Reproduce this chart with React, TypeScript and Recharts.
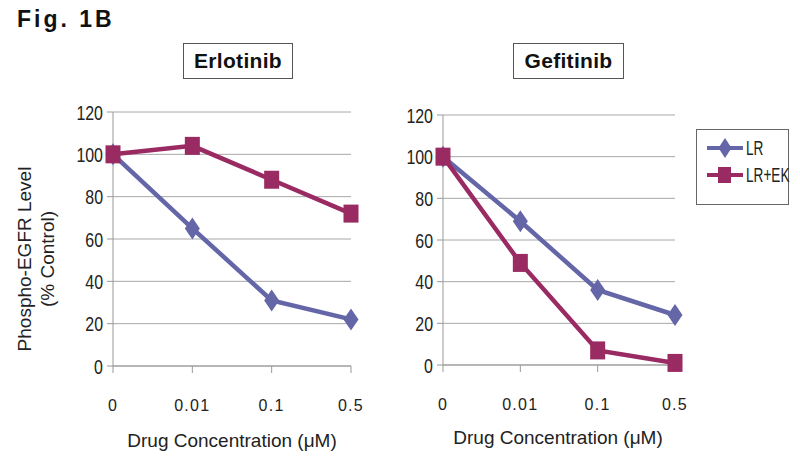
import React from 'react';
import { LineChart, Line, XAxis, YAxis, CartesianGrid, Legend } from 'recharts';

const concentrations = ['0', '0.01', '0.1', '0.5'];
const erlotinibLR = [100, 65, 31, 22];
const erlotinibLREK = [100, 104, 88, 72];
const gefitinibLR = [100, 69, 36, 24];
const gefitinibLREK = [100, 49, 7, 1];
const yTicks = [0, 20, 40, 60, 80, 100, 120];
const seriesNames = ['LR', 'LR+EK'];

const LR_COLOR = '#6466a8';
const LREK_COLOR = '#9a2a62';
const ARIAL = "'Liberation Sans', Arial, sans-serif";

const build = (a: number[], b: number[]) =>
  concentrations.map((c, i) => ({ conc: c, LR: a[i], 'LR+EK': b[i] }));

const erlotinibData = build(erlotinibLR, erlotinibLREK);
const gefitinibData = build(gefitinibLR, gefitinibLREK);

const Diamond = (props: any) => {
  const { cx, cy } = props;
  if (cx == null || cy == null) return null;
  return (
    <polygon
      points={`${cx},${cy - 11} ${cx + 7.5},${cy} ${cx},${cy + 11} ${cx - 7.5},${cy}`}
      fill={LR_COLOR}
    />
  );
};

const Square = (props: any) => {
  const { cx, cy } = props;
  if (cx == null || cy == null) return null;
  return <rect x={cx - 7.5} y={cy - 9} width={15} height={18} fill={LREK_COLOR} />;
};

const NarrowYTick = (props: any) => {
  const { x, y, payload } = props;
  return (
    <g transform={`translate(${x},${y}) scale(0.76,1)`}>
      <text x={0} y={0} dy="0.36em" textAnchor="end" fontFamily={ARIAL} fontSize={21} fill="#222">
        {payload.value}
      </text>
    </g>
  );
};

const XTick = (props: any) => {
  const { x, y, payload } = props;
  return (
    <text x={x} y={y} dy="0.71em" textAnchor="middle" fontFamily={ARIAL} fontSize={16} letterSpacing={1.3} fill="#222">
      {payload.value}
    </text>
  );
};

const LegendBox = () => (
  <div
    style={{
      width: 93,
      height: 76,
      border: '1px solid #666',
      boxSizing: 'border-box',
      background: '#fff',
      position: 'relative',
    }}
  >
    {seriesNames.map((name, i) => (
      <div
        key={name}
        style={{ position: 'absolute', left: 8, top: 6 + i * 27, height: 24, display: 'flex', alignItems: 'center' }}
      >
        <svg width={40} height={24}>
          <line x1={2} y1={12} x2={38} y2={12} stroke={i === 0 ? LR_COLOR : LREK_COLOR} strokeWidth={4} />
          {i === 0 ? (
            <polygon points="20,2 26.5,12 20,22 13.5,12" fill={LR_COLOR} />
          ) : (
            <rect x={13} y={4} width={13} height={16} fill={LREK_COLOR} />
          )}
        </svg>
        <span
          style={{
            fontFamily: ARIAL,
            fontSize: 20,
            color: '#222',
            display: 'inline-block',
            transform: 'scaleX(0.68)',
            transformOrigin: 'left center',
            marginLeft: 1,
          }}
        >
          {name}
        </span>
      </div>
    ))}
  </div>
);

const TitleBox = ({ text, left, width }: { text: string; left: number; width: number }) => (
  <div
    style={{
      position: 'absolute',
      left,
      top: 43,
      width,
      height: 36,
      border: '1px solid #555',
      boxSizing: 'border-box',
      fontFamily: ARIAL,
      fontWeight: 'bold',
      fontSize: 21,
      display: 'flex',
      alignItems: 'center',
      justifyContent: 'center',
      color: '#111',
      letterSpacing: 0.3,
    }}
  >
    {text}
  </div>
);

const XLabel = ({ text, center, top }: { text: string; center: number; top: number }) => (
  <div
    style={{
      position: 'absolute',
      left: center - 140,
      width: 280,
      top,
      textAlign: 'center',
      fontFamily: ARIAL,
      fontSize: 19,
      color: '#222',
    }}
  >
    {text}
  </div>
);

const Panel = ({ data, width, marginRight, top, bottom, withLegend }: any) => (
  <LineChart
    width={width}
    height={469}
    data={data}
    margin={{ top, bottom, left: 13, right: marginRight }}
  >
    <CartesianGrid vertical={false} stroke="#a8a8a8" strokeWidth={1} />
    <XAxis
      dataKey="conc"
      height={30}
      stroke="#999"
      tickSize={7}
      tickMargin={27}
      tick={<XTick />}
      interval={0}
      padding={{ left: 0, right: 0 }}
    />
    <YAxis
      width={50}
      domain={[0, 120]}
      ticks={yTicks}
      stroke="#999"
      tickSize={6}
      tickMargin={4}
      tick={<NarrowYTick />}
      interval={0}
    />
    {withLegend && (
      <Legend
        layout="vertical"
        align="center"
        verticalAlign="middle"
        content={<LegendBox />}
        wrapperStyle={{ position: 'absolute', left: 696 - 380, top: 129, width: 93, height: 76 }}
      />
    )}
    <Line
      dataKey="LR"
      stroke={LR_COLOR}
      strokeWidth={4.5}
      dot={<Diamond />}
      activeDot={false}
      isAnimationActive={false}
    />
    <Line
      dataKey="LR+EK"
      stroke={LREK_COLOR}
      strokeWidth={4.5}
      dot={<Square />}
      activeDot={false}
      isAnimationActive={false}
    />
  </LineChart>
);

export default function App() {
  return (
    <div
      style={{
        position: 'absolute',
        left: 0,
        top: 0,
        width: 800,
        height: 469,
        background: '#fff',
        overflow: 'hidden',
      }}
    >
      <div
        style={{
          position: 'absolute',
          left: 17,
          top: 6,
          fontFamily: ARIAL,
          fontWeight: 'bold',
          fontSize: 23,
          letterSpacing: 3,
          color: '#111',
        }}
      >
        Fig. 1B
      </div>
      <TitleBox text="Erlotinib" left={183} width={110} />
      <TitleBox text="Gefitinib" left={513} width={111} />

      <div style={{ position: 'absolute', left: 50, top: 0 }}>
        <Panel data={erlotinibData} width={320} marginRight={19} top={112} bottom={73} />
      </div>
      <div style={{ position: 'absolute', left: 380, top: 0 }}>
        <Panel data={gefitinibData} width={420} marginRight={125} top={115} bottom={74} withLegend />
      </div>

      <svg style={{ position: 'absolute', left: 0, top: 0 }} width={70} height={469}>
        <g transform="translate(31,259) rotate(-90)">
          <text textAnchor="middle" fontFamily={ARIAL} fontSize={19} fill="#222">
            Phospho-EGFR Level
          </text>
          <text y={23} textAnchor="middle" fontFamily={ARIAL} fontSize={19} fill="#222">
            (% Control)
          </text>
        </g>
      </svg>

      <XLabel text="Drug Concentration (μM)" center={232} top={430} />
      <XLabel text="Drug Concentration (μM)" center={558} top={427} />
    </div>
  );
}
